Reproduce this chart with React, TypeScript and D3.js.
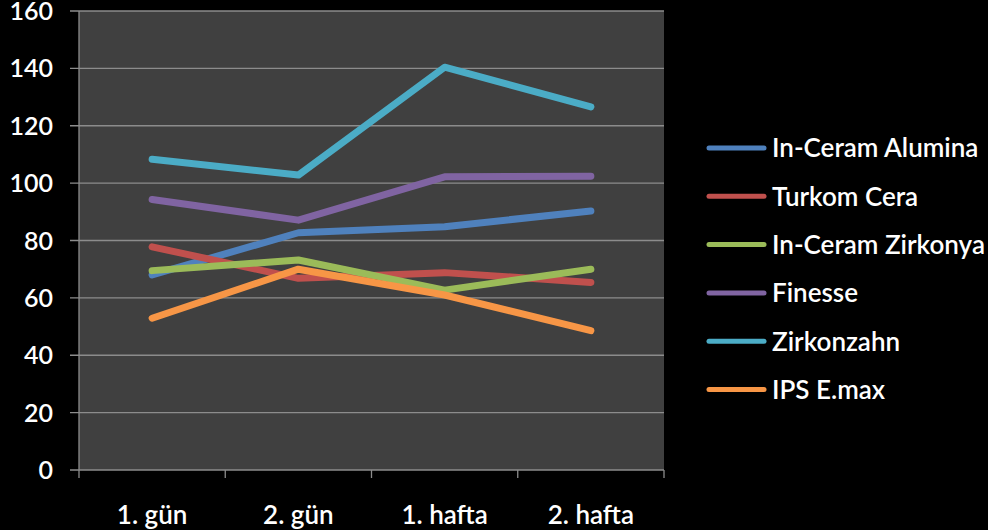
import React from "react";
import * as d3 from "d3";

const categories = ["1. gün", "2. gün", "1. hafta", "2. hafta"];
const yTicks = [0, 20, 40, 60, 80, 100, 120, 140, 160];

const seriesNames = ["In-Ceram Alumina", "Turkom Cera", "In-Ceram Zirkonya", "Finesse", "Zirkonzahn", "IPS E.max"];
const seriesColors = ["#4F81BD", "#C0504D", "#9BBB59", "#8064A2", "#4BACC6", "#F79646"];

const alumina = [68, 82.7, 84.8, 90.3];
const turkom = [77.8, 66.8, 68.8, 65.4];
const zirkonya = [69.5, 73.2, 62.7, 70];
const finesse = [94.3, 87.1, 102.2, 102.4];
const zirkonzahn = [108.3, 102.8, 140.4, 126.6];
const emax = [52.9, 70, 61, 48.6];

const seriesValues = [alumina, turkom, zirkonya, finesse, zirkonzahn, emax];

const W = 988;
const H = 530;
const plot = { left: 79, right: 664, top: 11, bottom: 470 };
const font = "Lato, 'DejaVu Sans', sans-serif";

export default function App() {
  const x = d3.scaleBand<string>().domain(categories).range([plot.left, plot.right]);
  const y = d3.scaleLinear().domain([0, 160]).range([plot.bottom, plot.top]);

  const line = d3
    .line<number>()
    .x((_, i) => (x(categories[i]) as number) + x.bandwidth() / 2)
    .y((v) => y(v));

  const boundaries = categories.map((c) => x(c) as number).concat([plot.right]);

  return (
    <svg width={W} height={H} style={{ position: "absolute", left: 0, top: 0, display: "block" }}>
      <rect x={0} y={0} width={W} height={H} fill="#000" />
      <rect x={plot.left} y={plot.top} width={plot.right - plot.left} height={plot.bottom - plot.top} fill="#404040" />

      {/* gridlines + y ticks */}
      {yTicks.map((t) => (
        <g key={t}>
          <line x1={plot.left - 9} x2={plot.right} y1={y(t)} y2={y(t)} stroke="#8c8c8c" strokeWidth={1.3} />
          <text x={53} y={y(t)} dy="0.36em" textAnchor="end" fill="#fff" fontSize={25} fontFamily={font} fontWeight={600}>
            {t}
          </text>
        </g>
      ))}

      {/* axes */}
      <line x1={plot.left} x2={plot.left} y1={plot.top} y2={plot.bottom} stroke="#8c8c8c" strokeWidth={1.3} />
      {boundaries.map((bx, i) => (
        <line key={i} x1={bx} x2={bx} y1={plot.bottom} y2={plot.bottom + 8} stroke="#8c8c8c" strokeWidth={1.3} />
      ))}
      {categories.map((c) => (
        <text key={c} x={(x(c) as number) + x.bandwidth() / 2} y={524} textAnchor="middle" fill="#fff" fontSize={26} fontFamily={font} fontWeight={600}>
          {c}
        </text>
      ))}

      {/* series lines */}
      {seriesValues.map((vals, i) => (
        <path
          key={seriesNames[i]}
          d={line(vals) as string}
          fill="none"
          stroke={seriesColors[i]}
          strokeWidth={7}
          strokeLinecap="round"
          strokeLinejoin="round"
        />
      ))}

      {/* legend */}
      {seriesNames.map((name, i) => {
        const ly = 148 + i * 48.3;
        return (
          <g key={name}>
            <line x1={709} x2={764} y1={ly} y2={ly} stroke={seriesColors[i]} strokeWidth={5} strokeLinecap="round" />
            <text x={772} y={ly} dy="0.36em" fill="#fff" fontSize={26} fontFamily={font} fontWeight={600}>
              {name}
            </text>
          </g>
        );
      })}
    </svg>
  );
}
